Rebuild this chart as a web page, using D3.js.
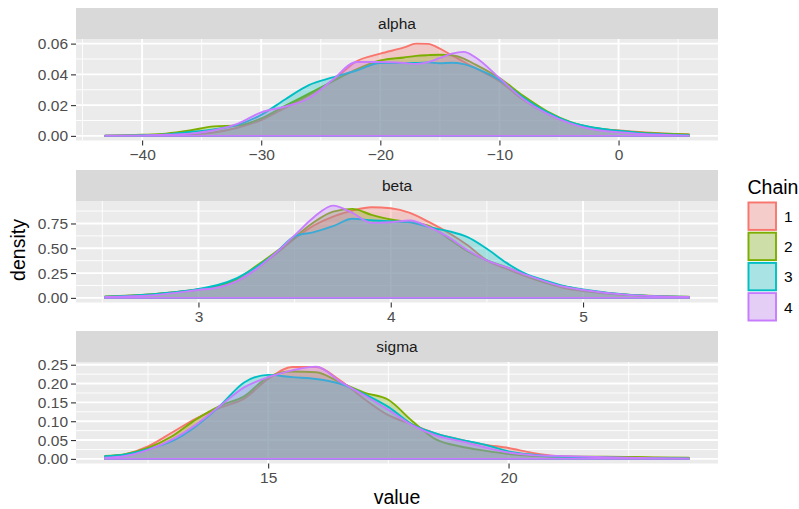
<!DOCTYPE html>
<html>
<head>
<meta charset="utf-8">
<script src="https://cdn.jsdelivr.net/npm/d3@7"></script>
<style>
  body { margin: 0; background: #fff; }
  svg { display: block; }
</style>
</head>
<body>
<div id="chart"></div>
<script>
// chains and their ggplot hue colours
var chains = ["1", "2", "3", "4"];
var chainColors = ["#F8766D", "#7CAE00", "#00BFC4", "#C77CFF"];

// alpha panel
var alphaGrid = [-43.1, -40, -38, -36, -34, -32, -30, -28, -26, -24, -22, -20, -18, -17, -16, -15, -14, -13, -12, -10, -8, -6, -4, -2, 0, 2, 4, 5.9];
var alphaChain1 = [0.0001, 0.0003, 0.0005, 0.001, 0.0022, 0.0053, 0.0103, 0.0182, 0.0265, 0.036, 0.0485, 0.0535, 0.0575, 0.06, 0.0598, 0.0568, 0.0524, 0.0482, 0.044, 0.0356, 0.0235, 0.0145, 0.0082, 0.005, 0.0035, 0.0024, 0.0015, 0.0009];
var alphaChain2 = [0.0001, 0.0007, 0.0015, 0.0035, 0.0062, 0.0068, 0.0114, 0.0195, 0.0275, 0.0355, 0.0432, 0.049, 0.051, 0.052, 0.0525, 0.0528, 0.0524, 0.0502, 0.0463, 0.0376, 0.026, 0.016, 0.009, 0.0052, 0.0033, 0.002, 0.0014, 0.0009];
var alphaChain3 = [0.0001, 0.0004, 0.001, 0.0025, 0.0042, 0.0072, 0.0137, 0.0237, 0.033, 0.038, 0.0425, 0.0474, 0.0474, 0.0474, 0.0478, 0.0472, 0.0476, 0.0467, 0.0441, 0.0365, 0.025, 0.0155, 0.0088, 0.0053, 0.0033, 0.0018, 0.001, 0.0005];
var alphaChain4 = [0.0001, 0.0003, 0.0007, 0.0015, 0.0037, 0.0078, 0.0153, 0.019, 0.0245, 0.0365, 0.048, 0.048, 0.0474, 0.0468, 0.048, 0.0507, 0.0535, 0.0546, 0.051, 0.0376, 0.024, 0.0145, 0.008, 0.004, 0.0024, 0.0012, 0.0006, 0.0002];
var alphaXTicks = [-40, -30, -20, -10, 0];
var alphaYTicks = [0, 0.02, 0.04, 0.06];

// beta panel
var betaGrid = [2.515, 2.75, 3.0, 3.1, 3.2, 3.3, 3.4, 3.5, 3.6, 3.7, 3.8, 3.9, 4.0, 4.1, 4.2, 4.3, 4.4, 4.5, 4.6, 4.7, 4.8, 4.9, 5.0, 5.25, 5.55];
var betaChain1 = [0.01, 0.035, 0.085, 0.115, 0.17, 0.29, 0.44, 0.596, 0.73, 0.82, 0.88, 0.914, 0.904, 0.857, 0.763, 0.656, 0.53, 0.378, 0.295, 0.22, 0.154, 0.1, 0.07, 0.028, 0.01];
var betaChain2 = [0.015, 0.035, 0.085, 0.12, 0.19, 0.32, 0.46, 0.612, 0.763, 0.87, 0.897, 0.837, 0.79, 0.763, 0.723, 0.6, 0.47, 0.378, 0.31, 0.234, 0.16, 0.117, 0.08, 0.03, 0.012];
var betaChain3 = [0.012, 0.035, 0.09, 0.13, 0.2, 0.31, 0.45, 0.62, 0.663, 0.723, 0.797, 0.783, 0.773, 0.763, 0.713, 0.673, 0.612, 0.495, 0.355, 0.244, 0.177, 0.12, 0.085, 0.03, 0.01];
var betaChain4 = [0.01, 0.025, 0.08, 0.105, 0.17, 0.29, 0.45, 0.63, 0.813, 0.93, 0.857, 0.756, 0.763, 0.78, 0.713, 0.612, 0.48, 0.378, 0.31, 0.234, 0.167, 0.113, 0.08, 0.028, 0.01];
var betaXTicks = [3, 4, 5];
var betaYTicks = [0, 0.25, 0.5, 0.75];

// sigma panel
var sigmaGrid = [11.61, 12, 12.5, 13, 13.5, 14, 14.5, 15, 15.5, 16, 16.5, 17, 17.5, 18, 18.5, 19, 19.5, 20, 20.5, 21, 22, 23, 23.75];
var sigmaChain1 = [0.005, 0.011, 0.033, 0.07, 0.107, 0.136, 0.16, 0.212, 0.244, 0.244, 0.208, 0.159, 0.116, 0.091, 0.067, 0.051, 0.038, 0.029, 0.016, 0.008, 0.0045, 0.003, 0.002];
var sigmaChain2 = [0.008, 0.012, 0.029, 0.06, 0.105, 0.141, 0.166, 0.217, 0.232, 0.23, 0.203, 0.176, 0.157, 0.1, 0.051, 0.033, 0.022, 0.013, 0.008, 0.006, 0.006, 0.004, 0.003];
var sigmaChain3 = [0.007, 0.011, 0.026, 0.047, 0.087, 0.141, 0.203, 0.223, 0.217, 0.212, 0.199, 0.172, 0.138, 0.091, 0.067, 0.051, 0.038, 0.02, 0.011, 0.006, 0.0035, 0.002, 0.001];
var sigmaChain4 = [0.003, 0.007, 0.024, 0.051, 0.091, 0.141, 0.19, 0.217, 0.235, 0.245, 0.205, 0.169, 0.13, 0.089, 0.062, 0.047, 0.031, 0.017, 0.01, 0.008, 0.0045, 0.002, 0.001];
var sigmaXTicks = [15, 20];
var sigmaYTicks = [0, 0.05, 0.1, 0.15, 0.2, 0.25];

var panels = [
  { name: "alpha", grid: alphaGrid, dens: [alphaChain1, alphaChain2, alphaChain3, alphaChain4], xt: alphaXTicks, yt: alphaYTicks },
  { name: "beta", grid: betaGrid, dens: [betaChain1, betaChain2, betaChain3, betaChain4], xt: betaXTicks, yt: betaYTicks },
  { name: "sigma", grid: sigmaGrid, dens: [sigmaChain1, sigmaChain2, sigmaChain3, sigmaChain4], xt: sigmaXTicks, yt: sigmaYTicks }
];

var width = 799, height = 509;
var left = 76, right = 718;
var stripTops = [8, 170, 331];
var stripH = 31, plotH = 101.5;
var smallFont = 15.5, bigFont = 19.5;

var svg = d3.select("#chart").append("svg")
    .attr("width", width)
    .attr("height", height)
    .style("font-family", "'Liberation Sans', Arial, Helvetica, sans-serif");

svg.append("rect").attr("width", width).attr("height", height).attr("fill", "white");

// minor breaks halfway between majors, kept inside the domain
function minors(ticks, domain) {
  var step = ticks[1] - ticks[0];
  var ext = [ticks[0] - step].concat(ticks, [ticks[ticks.length - 1] + step]);
  return d3.pairs(ext).map(function(p) { return (p[0] + p[1]) / 2; })
    .filter(function(v) { return v >= domain[0] && v <= domain[1]; });
}

panels.forEach(function(p, i) {
  var top = stripTops[i];
  var py0 = top + stripH, py1 = py0 + plotH;

  var xmin = d3.min(p.grid), xmax = d3.max(p.grid), xr = xmax - xmin;
  var ymax = d3.max(p.dens, function(d) { return d3.max(d); });

  var x = d3.scaleLinear().domain([xmin - 0.05 * xr, xmax + 0.05 * xr]).range([left, right]);
  var y = d3.scaleLinear().domain([-0.05 * ymax, ymax * 1.05]).range([py1, py0]);

  var g = svg.append("g");

  // panel background
  g.append("rect")
    .attr("x", left).attr("y", py0)
    .attr("width", right - left).attr("height", plotH)
    .attr("fill", "#EBEBEB");

  // grid lines
  var xMinor = minors(p.xt, x.domain()), yMinor = minors(p.yt, y.domain());
  g.selectAll(".xminor").data(xMinor).enter().append("line")
    .attr("x1", function(d) { return x(d); }).attr("x2", function(d) { return x(d); })
    .attr("y1", py0).attr("y2", py1)
    .attr("stroke", "white").attr("stroke-width", 0.9);
  g.selectAll(".yminor").data(yMinor).enter().append("line")
    .attr("y1", function(d) { return y(d); }).attr("y2", function(d) { return y(d); })
    .attr("x1", left).attr("x2", right)
    .attr("stroke", "white").attr("stroke-width", 0.9);
  g.selectAll(".xmajor").data(p.xt).enter().append("line")
    .attr("x1", function(d) { return x(d); }).attr("x2", function(d) { return x(d); })
    .attr("y1", py0).attr("y2", py1)
    .attr("stroke", "white").attr("stroke-width", 1.9);
  g.selectAll(".ymajor").data(p.yt).enter().append("line")
    .attr("y1", function(d) { return y(d); }).attr("y2", function(d) { return y(d); })
    .attr("x1", left).attr("x2", right)
    .attr("stroke", "white").attr("stroke-width", 1.9);

  // density areas, chain 1 first so chain 4 ends on top
  var area = d3.area()
    .x(function(d) { return x(d[0]); })
    .y0(y(0))
    .y1(function(d) { return y(d[1]); })
    .curve(d3.curveMonotoneX);

  p.dens.forEach(function(vals, c) {
    var pts = p.grid.map(function(v, k) { return [v, vals[k]]; });
    g.append("path")
      .datum(pts)
      .attr("d", area)
      .attr("fill", chainColors[c])
      .attr("fill-opacity", 0.3)
      .attr("stroke", chainColors[c])
      .attr("stroke-width", 1.9)
      .attr("stroke-linejoin", "round");
  });

  // strip
  g.append("rect")
    .attr("x", left).attr("y", top)
    .attr("width", right - left).attr("height", stripH)
    .attr("fill", "#D9D9D9");
  g.append("text")
    .attr("x", (left + right) / 2).attr("y", top + stripH / 2)
    .attr("dy", "0.35em")
    .attr("text-anchor", "middle")
    .attr("font-size", smallFont)
    .attr("fill", "#1A1A1A")
    .text(p.name);

  // axes
  var yAxis = g.append("g")
    .attr("transform", "translate(" + left + ",0)")
    .call(d3.axisLeft(y).tickValues(p.yt).tickSize(5).tickPadding(3).tickFormat(d3.format(".2f")));
  var xAxis = g.append("g")
    .attr("transform", "translate(0," + py1 + ")")
    .call(d3.axisBottom(x).tickValues(p.xt).tickSize(5).tickPadding(3).tickFormat(d3.format("d")));

  [yAxis, xAxis].forEach(function(ax) {
    ax.select(".domain").remove();
    ax.selectAll(".tick line").attr("stroke", "#333333").attr("stroke-width", 1.1);
    ax.selectAll(".tick text")
      .attr("fill", "#4D4D4D")
      .attr("font-size", smallFont)
      .attr("font-family", "'Liberation Sans', Arial, Helvetica, sans-serif");
  });
});

// axis titles
svg.append("text")
  .attr("x", (left + right) / 2).attr("y", 504)
  .attr("text-anchor", "middle")
  .attr("font-size", bigFont)
  .attr("fill", "black")
  .text("value");

svg.append("text")
  .attr("transform", "translate(25,250) rotate(-90)")
  .attr("text-anchor", "middle")
  .attr("font-size", bigFont)
  .attr("fill", "black")
  .text("density");

// legend
var legend = svg.append("g").attr("transform", "translate(747.5,0)");
legend.append("text")
  .attr("x", 0).attr("y", 194)
  .attr("font-size", bigFont)
  .attr("fill", "black")
  .text("Chain");

var keyTop = 201.5, keyStep = 30.2, keySize = 29.5;
var keys = legend.selectAll(".key").data(chains).enter().append("g")
  .attr("transform", function(d, i) { return "translate(0," + (keyTop + i * keyStep) + ")"; });
keys.append("rect")
  .attr("width", keySize).attr("height", keyStep - 0.8)
  .attr("fill", "#F2F2F2");
keys.append("rect")
  .attr("x", 1).attr("y", 1)
  .attr("width", keySize - 2).attr("height", keyStep - 2.8)
  .attr("fill", function(d, i) { return chainColors[i]; })
  .attr("fill-opacity", 0.3)
  .attr("stroke", function(d, i) { return chainColors[i]; })
  .attr("stroke-width", 1.9);
keys.append("text")
  .attr("x", keySize + 7).attr("y", keyStep / 2)
  .attr("dy", "0.35em")
  .attr("font-size", smallFont)
  .attr("fill", "black")
  .text(function(d) { return d; });
</script>
</body>
</html>
